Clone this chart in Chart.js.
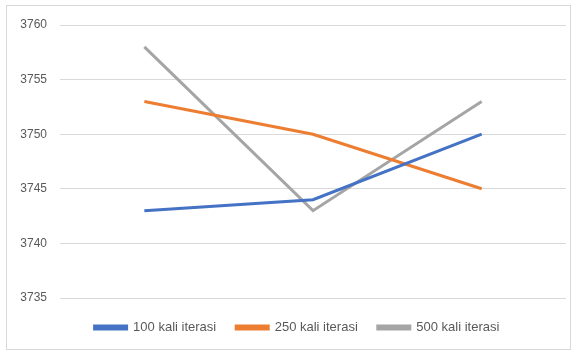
<!DOCTYPE html>
<html>
<head>
<meta charset="utf-8">
<script src="https://cdn.jsdelivr.net/npm/chart.js@4/dist/chart.umd.min.js"></script>
<style>
  html, body { margin: 0; padding: 0; background: #fff; }
  #wrap { position: relative; width: 579px; height: 354px; }
  #frame { position: absolute; left: 6px; top: 5px; width: 565px; height: 345px; border: 1px solid #d9d9d9; box-sizing: border-box; pointer-events: none; }
  canvas { position: absolute; left: 0; top: 0; }
</style>
</head>
<body>
<div id="wrap">
  <canvas id="c" width="579" height="354"></canvas>
  <div id="frame"></div>
</div>
<script>
const categories = ['1', '2', '3'];
const seriesNames = ['100 kali iterasi', '250 kali iterasi', '500 kali iterasi'];
const iter100 = [3743, 3744, 3750];
const iter250 = [3753, 3750, 3745];
const iter500 = [3758, 3743, 3753];
const yTicks = [3735, 3740, 3745, 3750, 3755, 3760];

const colors = ['#4472c4', '#ed7d31', '#a5a5a5'];
const values = [iter100, iter250, iter500];

const datasets = values.map((v, i) => ({
  label: seriesNames[i],
  data: v,
  borderColor: colors[i],
  backgroundColor: colors[i],
  borderWidth: 3,
  pointRadius: 0,
  tension: 0,
  fill: false
}));

new Chart(document.getElementById('c'), {
  type: 'line',
  data: { labels: categories, datasets },
  options: {
    responsive: false,
    animation: false,
    devicePixelRatio: 1,
    layout: { padding: { top: 25, right: 1, bottom: 10, left: 16 } },
    plugins: {
      tooltip: { enabled: false },
      legend: {
        position: 'bottom',
        labels: {
          boxWidth: 32,
          boxHeight: 3,
          padding: 20,
          color: '#595959',
          font: { family: 'Liberation Sans', size: 13 }
        }
      }
    },
    scales: {
      x: {
        type: 'category',
        offset: true,
        grid: { display: false, drawTicks: false },
        border: { display: false },
        ticks: { display: false },
        afterFit: s => { s.height = 3; }
      },
      y: {
        min: yTicks[0],
        max: yTicks[yTicks.length - 1],
        afterBuildTicks: s => { s.ticks = yTicks.map(v => ({ value: v })); },
        afterFit: s => { s.width = 44; },
        grid: { color: '#d9d9d9', drawTicks: false, lineWidth: 1 },
        border: { display: false },
        ticks: {
          padding: 13,
          color: '#595959',
          font: { family: 'Liberation Sans', size: 12 },
          callback: v => String(v)
        }
      },
      // empty right-hand margin so the plot stops short of the frame
      gutter: {
        position: 'right',
        display: true,
        grid: { display: false, drawTicks: false },
        border: { display: false },
        ticks: { display: false },
        afterFit: s => { s.width = 12; }
      }
    }
  }
});
</script>
</body>
</html>
